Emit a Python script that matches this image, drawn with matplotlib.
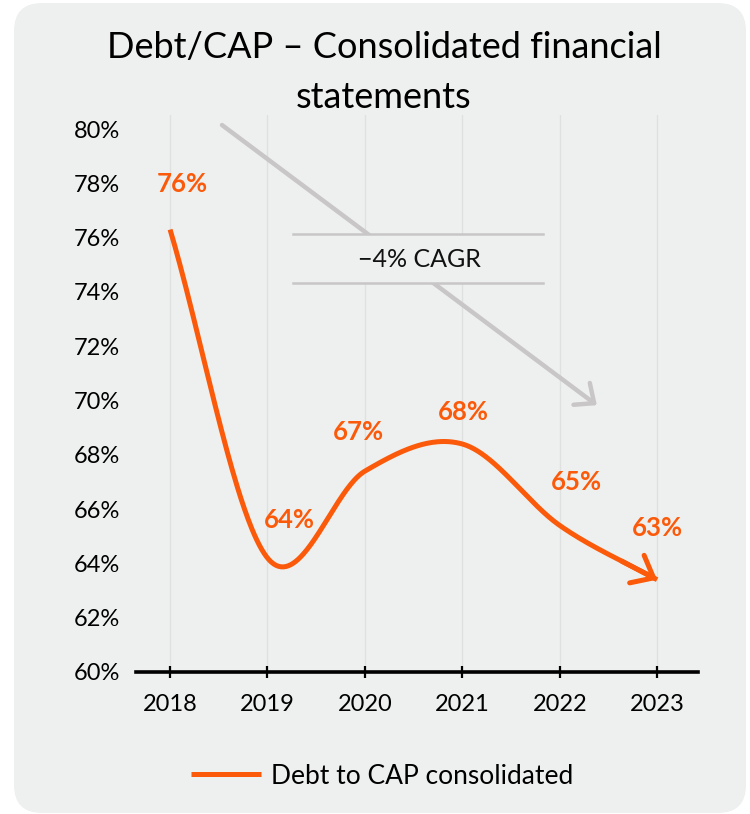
import matplotlib
matplotlib.use("Agg")
import numpy as np
import matplotlib.pyplot as plt
from matplotlib.patches import FancyBboxPatch, Rectangle

plt.rcParams["font.family"] = ["Lato", "DejaVu Sans"]

years = [2018, 2019, 2020, 2021, 2022, 2023]
debt_to_cap = [76.3, 64.2, 67.4, 68.4, 65.4, 63.4]
series_name = "Debt to CAP consolidated"
cagr_text = "\u22124% CAGR"
y_ticks = list(range(60, 81, 2))

ORANGE = "#fa5a0a"
PANEL = "#eef0ef"
ARROW_GRAY = "#c8c6c6"
GRID = "#dfe0e0"


def hermite_smooth(x, y, n=400):
    # Catmull-Rom style cubic through every point
    x = np.asarray(x, float)
    y = np.asarray(y, float)
    m = np.gradient(y, x)
    xs = np.linspace(x[0], x[-1], n)
    idx = np.clip(np.searchsorted(x, xs) - 1, 0, len(x) - 2)
    h = x[idx + 1] - x[idx]
    t = (xs - x[idx]) / h
    h00 = 2 * t**3 - 3 * t**2 + 1
    h10 = t**3 - 2 * t**2 + t
    h01 = -2 * t**3 + 3 * t**2
    h11 = t**3 - t**2
    ys = h00 * y[idx] + h10 * h * m[idx] + h01 * y[idx + 1] + h11 * h * m[idx + 1]
    return xs, ys


fig = plt.figure(figsize=(7.5, 8.14), dpi=100)

# rounded grey card behind everything, drawn in pixel units
bg = fig.add_axes([0, 0, 1, 1])
bg.set_xlim(0, 750)
bg.set_ylim(814, 0)
bg.axis("off")
bg.add_patch(FancyBboxPatch((14, 3), 732, 810, boxstyle="round,pad=0,rounding_size=28",
                            facecolor=PANEL, edgecolor="none"))

ax = fig.add_axes([136 / 750, 1 - 672 / 814, 562 / 750, 557 / 814])
ax.set_facecolor("none")
ax.set_xlim(2017.65, 2023.42)
ax.set_ylim(60, 80.52)

for s in ["top", "right", "left"]:
    ax.spines[s].set_visible(False)
ax.spines["bottom"].set_linewidth(2.6)
ax.spines["bottom"].set_color("black")

ax.set_xticks(years)
ax.set_yticks(y_ticks)
ax.set_yticklabels([f"{v}%" for v in y_ticks])
ax.tick_params(axis="y", length=0, pad=11.5, labelsize=17)
ax.tick_params(axis="x", direction="inout", length=9, width=1.6, pad=11, labelsize=17)
ax.grid(axis="x", color=GRID, linewidth=1.0)
ax.set_axisbelow(True)

# smoothed debt/cap line
xs, ys = hermite_smooth(years, debt_to_cap)
ax.plot(xs, ys, color=ORANGE, linewidth=3.6, solid_capstyle="butt", label=series_name, zorder=4)
ax.annotate("", xy=(xs[-1], ys[-1]), xytext=(xs[-30], ys[-30]),
            arrowprops=dict(arrowstyle="->,head_length=0.85,head_width=0.7",
                            color=ORANGE, lw=3.6, mutation_scale=16,
                            shrinkA=0, shrinkB=0), zorder=4)

# value labels
offsets = [(9, 33), (16, 27), (-5, 28), (1, 23), (12, 31), (0, 37)]
for x, v, off in zip(years, debt_to_cap, offsets):
    ax.annotate(f"{v:.0f}%", (x, v), xytext=off, textcoords="offset points",
                ha="center", va="center", fontsize=18.5, fontweight="bold",
                color=ORANGE, zorder=5)

# CAGR trend arrow with label box
ax.annotate("", xy=(0.820, 0.479), xytext=(0.153, 0.982), xycoords="axes fraction",
            arrowprops=dict(arrowstyle="->,head_length=0.8,head_width=0.7",
                            color=ARROW_GRAY, lw=3.2, mutation_scale=14,
                            shrinkA=0, shrinkB=0), zorder=2)
ax.add_patch(Rectangle((0.279, 0.698), 0.445, 0.088, transform=ax.transAxes,
                       facecolor=PANEL, edgecolor="none", zorder=3))
for yy in (0.698, 0.786):
    ax.plot([0.279, 0.724], [yy, yy], transform=ax.transAxes, color=ARROW_GRAY,
            linewidth=1.8, zorder=3)
ax.text(0.505, 0.740, cagr_text, transform=ax.transAxes, ha="center", va="center",
        fontsize=18, color="#111111", zorder=4)

fig.text(384 / 750, 1 - 58 / 814, "Debt/CAP \u2013 Consolidated financial",
         ha="center", va="baseline", fontsize=26, color="black")
fig.text(384 / 750, 1 - 108 / 814, "statements",
         ha="center", va="baseline", fontsize=26, color="black")

fig.legend(loc="center", bbox_to_anchor=(382 / 750, 1 - 776 / 814), frameon=False,
           fontsize=19, handlelength=2.65, handletextpad=0.38)

fig.savefig("out.png", dpi=100)
